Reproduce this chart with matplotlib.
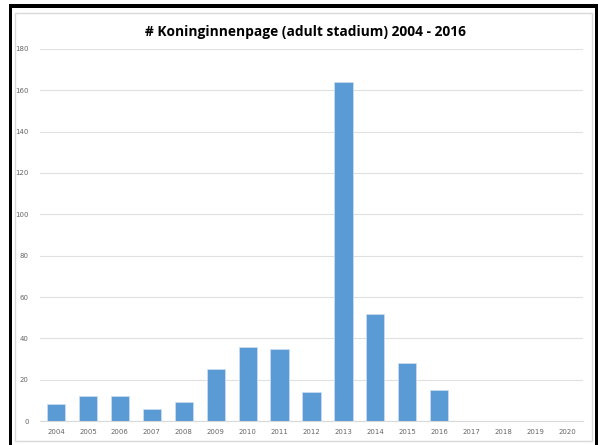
import matplotlib
matplotlib.use("Agg")
import matplotlib.pyplot as plt
from matplotlib.patches import Rectangle

years = ["2004", "2005", "2006", "2007", "2008", "2009", "2010", "2011", "2012",
         "2013", "2014", "2015", "2016", "2017", "2018", "2019", "2020"]
counts = [8, 12, 12, 6, 9, 25, 36, 35, 14, 164, 52, 28, 15, 0, 0, 0, 0]
y_ticks = [0, 20, 40, 60, 80, 100, 120, 140, 160, 180]

W, H = 605, 445
fig = plt.figure(figsize=(W / 100, H / 100), dpi=100)
fig.patch.set_facecolor("white")

# black frame (top, left, right) and light inner chart border
fig.add_artist(Rectangle((9 / W, 0), 3 / W, 1 - 4 / H, transform=fig.transFigure,
                         color="black", lw=0))
fig.add_artist(Rectangle((595 / W, 0), 3 / W, 1 - 4 / H, transform=fig.transFigure,
                         color="black", lw=0))
fig.add_artist(Rectangle((9 / W, 1 - 8 / H), 589 / W, 4 / H, transform=fig.transFigure,
                         color="black", lw=0))
fig.add_artist(Rectangle((15 / W, 4 / H), 577 / W, 1 - 17 / H, transform=fig.transFigure,
                         fill=False, ec="#d9d9d9", lw=1))

ax = fig.add_axes([40 / W, 1 - 421 / H, 543 / W, 372 / H])
x = range(len(years))
ax.bar(x, counts, width=0.57, color="#5b9bd5", edgecolor="#cfe0f1", linewidth=0.5, zorder=3)

ax.set_xlim(-0.5, len(years) - 0.5)
ax.set_ylim(0, 180)
ax.set_yticks(y_ticks)
ax.set_xticks(list(x))
ax.set_xticklabels(years)
ax.tick_params(axis="both", length=0, labelsize=5, labelcolor="#666666")
ax.tick_params(axis="y", pad=8)
ax.tick_params(axis="x", pad=6)
ax.grid(axis="y", color="#e0e0e0", linewidth=0.8, zorder=0)
for side in ["top", "right", "left"]:
    ax.spines[side].set_visible(False)
ax.spines["bottom"].set_color("#d9d9d9")
ax.spines["bottom"].set_linewidth(0.8)

fig.text(305.5 / W, 1 - 32 / H, "# Koninginnenpage (adult stadium) 2004 - 2016",
         ha="center", va="center", fontsize=9.9, fontweight="bold",
         family=["Open Sans", "DejaVu Sans"], color="black")

fig.savefig("out.png", dpi=100)
